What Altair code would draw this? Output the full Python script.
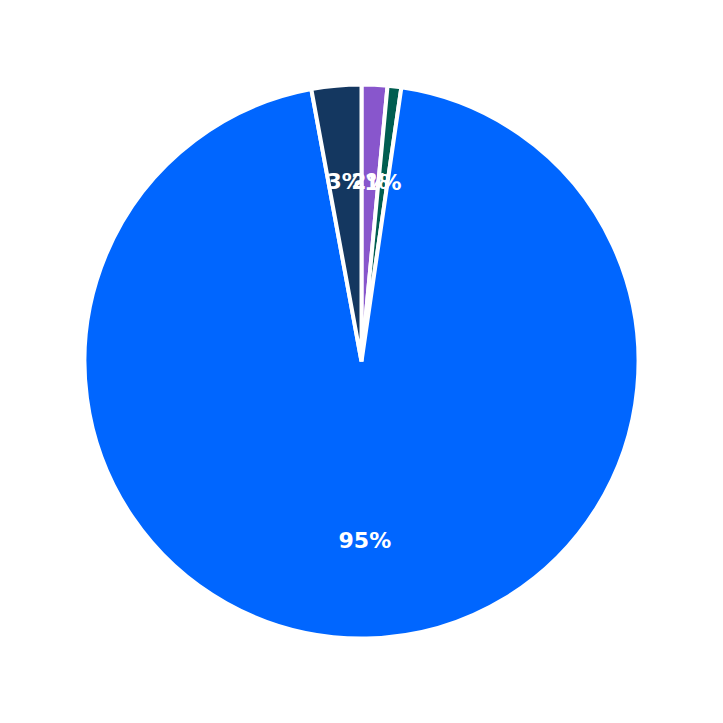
import pandas as pd
import altair as alt

categories = ["A", "B", "C", "D"]
shares = [1.5, 0.8, 94.8, 2.9]
labels = ["2%", "1%", "95%", "3%"]
colors = ["#8856cc", "#005e50", "#0066ff", "#143760"]

df = pd.DataFrame({"category": categories, "share": shares, "label": labels, "order": [0, 1, 2, 3]})

base = alt.Chart(df).encode(
    theta=alt.Theta("share:Q", stack=True),
    order=alt.Order("order:Q"),
)

pie = base.mark_arc(outerRadius=277, stroke="white", strokeWidth=4).encode(
    color=alt.Color("category:N", scale=alt.Scale(domain=categories, range=colors), legend=None)
)

text = base.mark_text(radius=180, font="DejaVu Sans", fontWeight="bold", fontSize=22, color="white").encode(
    text="label:N"
)

chart = (pie + text).properties(width=707, height=707, padding=0).configure_view(stroke=None)

chart.save("out.html", embed_options={"renderer": "svg", "actions": False})
